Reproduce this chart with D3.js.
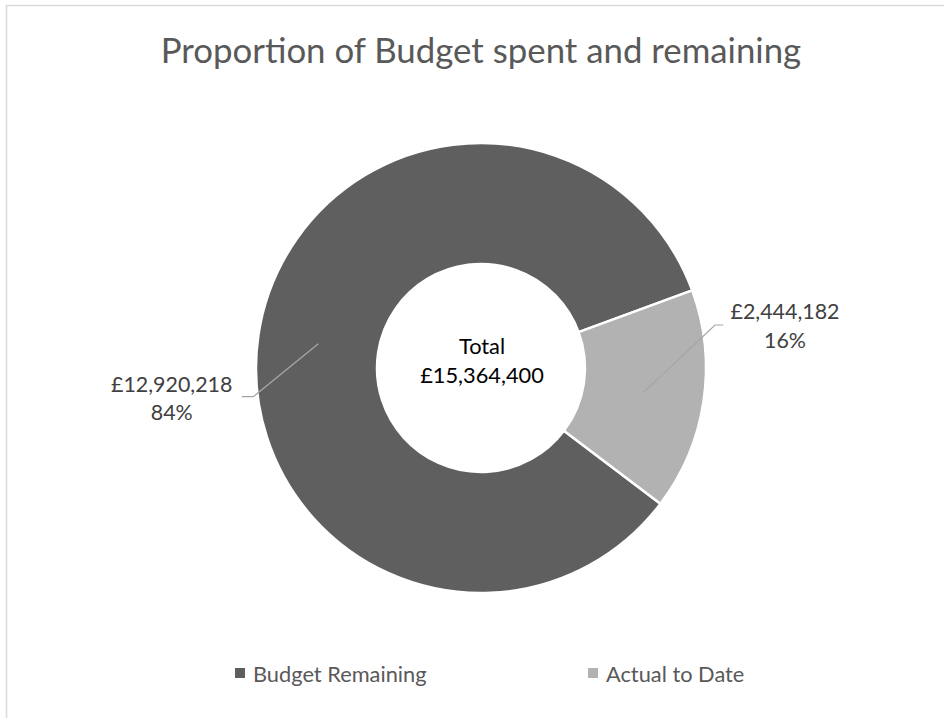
<!DOCTYPE html>
<html lang="en">
	<head>
		<meta charset="utf-8">
		<title>Proportion of Budget spent and remaining</title>
		<script src="https://d3js.org/d3.v7.min.js"></script>
		<style type="text/css">
			body { margin: 0; background: #fff; }
			text { font-family: Lato, "Open Sans", sans-serif; }
		</style>
	</head>
	<body>
		<script type="text/javascript">
			// chart data
			var categories = ["Budget Remaining", "Actual to Date"];
			var values = [12920218, 2444182];
			var colours = ["#5f5f5f", "#b2b2b2"];
			var title = "Proportion of Budget spent and remaining";

			var w = 944, h = 718;
			var cx = 481, cy = 368;
			var outerR = 225, innerR = 104;
			// Excel "angle of first slice" ~127 degrees
			var startAngle = 127.1 * Math.PI / 180;

			var total = d3.sum(values);
			var money = d3.format(",");
			var pct = d3.format(".0%");

			var svg = d3.select("body").append("svg").attr("width", w).attr("height", h);

			// chart area border (only top/left visible in the frame)
			svg.append("rect")
				.attr("x", 6.5).attr("y", 5.5)
				.attr("width", w + 20).attr("height", h + 20)
				.attr("fill", "#fff").attr("stroke", "#d9d9d9").attr("stroke-width", 1.5);

			svg.append("text")
				.attr("x", cx).attr("y", 63)
				.attr("text-anchor", "middle")
				.attr("font-size", 34.8)
				.attr("fill", "#595959")
				.text(title);

			var pie = d3.pie().sort(null)
				.startAngle(startAngle).endAngle(startAngle + 2 * Math.PI);
			var arc = d3.arc().innerRadius(innerR).outerRadius(outerR);
			var arcs = pie(values);

			var g = svg.append("g").attr("transform", "translate(" + cx + "," + cy + ")");

			g.selectAll("path.slice")
				.data(arcs)
				.enter()
				.append("path")
					.attr("class", "slice")
					.attr("d", arc)
					.attr("fill", (d, i) => colours[i])
					.attr("stroke", "#fff")
					.attr("stroke-width", 2.5)
					.attr("stroke-linejoin", "round");

			// label placement (dragged labels in the original): bend point and text centre, relative to centre
			var labelPos = [
				{ bend: [-227.7, 28.7], end: [-239.3, 28.7], tx: -309.3, ty: 23.7 },
				{ bend: [234, -43], end: [242.3, -43], tx: 304, ty: -49 }
			];

			arcs.forEach(function(d, i) {
				var c = arc.centroid(d);
				var p = labelPos[i];
				g.append("polyline")
					.attr("points", [c, p.bend, p.end].map(q => q.join(",")).join(" "))
					.attr("fill", "none")
					.attr("stroke", "#a6a6a6")
					.attr("stroke-width", 1.2);
				var t = g.append("text")
					.attr("text-anchor", "middle")
					.attr("font-size", 21.4)
					.attr("fill", "#404040");
				t.append("tspan").attr("x", p.tx).attr("y", p.ty).text("£" + money(d.data));
				t.append("tspan").attr("x", p.tx).attr("y", p.ty + 28.5).text(pct(d.data / total));
			});

			// centre total
			var ct = g.append("text")
				.attr("text-anchor", "middle")
				.attr("font-size", 21.8)
				.attr("fill", "#000");
			ct.append("tspan").attr("x", 1).attr("y", -14).text("Total");
			ct.append("tspan").attr("x", 1).attr("y", 14.7).text("£" + money(total));

			// legend
			var legendX = [235, 588];
			var legend = svg.selectAll("g.legend")
				.data(categories)
				.enter()
				.append("g")
					.attr("class", "legend")
					.attr("transform", (d, i) => "translate(" + legendX[i] + ",668)");
			legend.append("rect")
				.attr("width", 10).attr("height", 10)
				.attr("fill", (d, i) => colours[i]);
			legend.append("text")
				.attr("x", 18).attr("y", 14)
				.attr("font-size", 21.8)
				.attr("fill", "#595959")
				.text(d => d);
		</script>
	</body>
</html>
